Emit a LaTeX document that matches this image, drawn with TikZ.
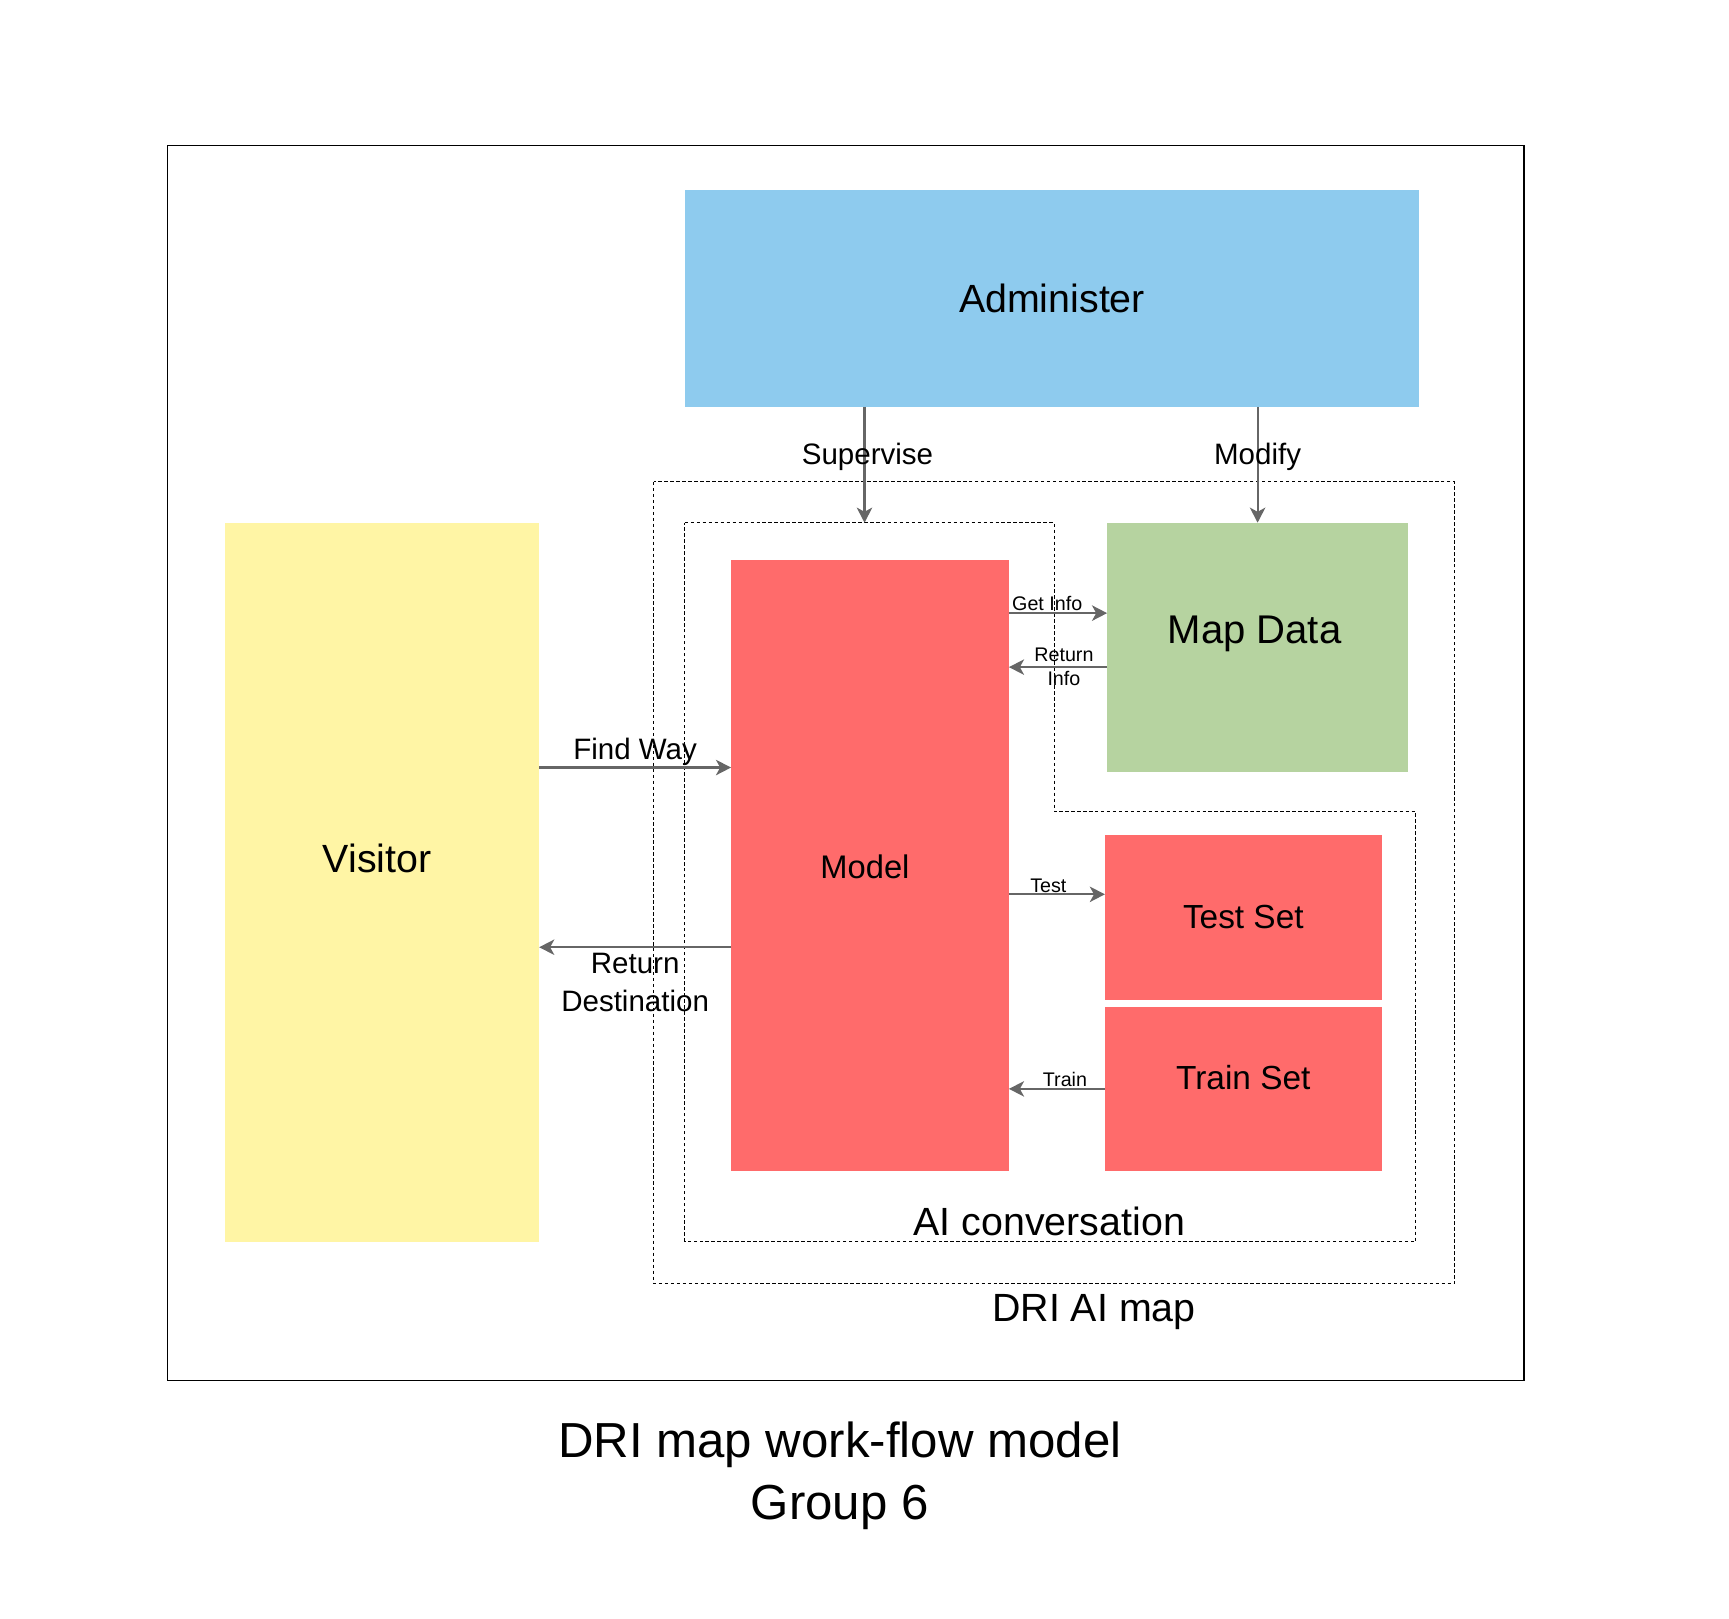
\documentclass[tikz,border=0pt]{standalone}
\usepackage{fontspec}
\setmainfont{Liberation Sans}
\usetikzlibrary{positioning,arrows.meta}

\definecolor{adminblue}{HTML}{8ECBEE}
\definecolor{visityellow}{HTML}{FFF5A5}
\definecolor{modelred}{HTML}{FF6B6B}
\definecolor{mapgreen}{HTML}{B6D3A0}
\definecolor{flowgray}{HTML}{666666}

\begin{document}
\begin{tikzpicture}[
    box/.style={rectangle,draw=none,inner sep=0pt,outer sep=0pt,fill=#1},
    flow/.style={draw=flowgray,line width=0.6pt,-{Stealth[length=4.3pt,width=4.4pt,inset=1.2pt]}},
    zone/.style={draw,line width=0.3pt,dash pattern=on 1pt off 0.7pt},
    bigtext/.style={font=\fontsize{11.2}{13}\selectfont},
    midtext/.style={font=\fontsize{8.4}{10.6}\selectfont,inner sep=0.5pt},
    smalltext/.style={font=\fontsize{5.6}{6.9}\selectfont,inner sep=0.5pt}
    ]

    \useasboundingbox (0,0) rectangle (17.29,-16.18);
    \draw[line width=0.4pt] (1.676,-1.456) rectangle (15.239,-13.806);

    % dashed zones
    \draw[zone] (6.539,-4.819) rectangle (14.545,-12.835);
    \draw[zone] (6.848,-5.227) -- (10.542,-5.227) -- (10.542,-8.116) -- (14.159,-8.116)
      -- (14.159,-12.416) -- (6.848,-12.416) -- cycle;
    \node (convlabel) [bigtext,anchor=base] at (10.493,-12.35) {AI conversation};
    \node (maplabel) [bigtext,anchor=base] at (10.94,-13.21) {DRI AI map};

    % boxes
    \node (admin) [box=adminblue,bigtext,minimum width=7.344cm,minimum height=2.172cm]
      at (10.52,-2.983) {Administer};
    \node (visitor) [box=visityellow,minimum width=3.142cm,minimum height=7.189cm,
      label={[bigtext,xshift=-0.5mm,yshift=2.4mm]center:Visitor}] at (3.821,-8.822) {};
    \node (model) [box=modelred,minimum width=2.779cm,minimum height=6.108cm,
      label={[font=\fontsize{9.3}{11}\selectfont,xshift=-0.5mm,yshift=-0.1mm]center:Model}] at (8.70,-8.656) {};
    \node (mapdata) [box=mapgreen,minimum width=3.01cm,minimum height=2.492cm,
      label={[font=\fontsize{11.4}{13}\selectfont,xshift=-0.3mm,yshift=1.3mm]center:Map Data}] at (12.576,-6.473) {};
    \node (testset) [box=modelred,font=\fontsize{9.5}{11}\selectfont,minimum width=2.768cm,minimum height=1.654cm]
      at (12.433,-9.174) {Test Set};
    \node (trainset) [box=modelred,minimum width=2.768cm,minimum height=1.643cm,below=0.066 of testset,
      label={[font=\fontsize{9.5}{11}\selectfont,yshift=1.1mm]center:Train Set}] {};

    % connectors
    \coordinate (supin) at (8.645,-5.227);
    \draw[flow] (admin.south -| supin) -- (supin) node[midtext,pos=0.43,xshift=0.3mm] {Supervise};
    \draw[flow] (admin.south -| mapdata.north) -- (mapdata.north) node[midtext,pos=0.43] {Modify};

    \draw[flow] ([yshift=3.42mm]mapdata.west -| model.east) -- ([yshift=3.42mm]mapdata.west)
      node[smalltext,above,pos=0.39] {Get Info};
    \draw[flow] ([yshift=-1.98mm]mapdata.west) -- ([yshift=-1.98mm]mapdata.west -| model.east)
      node[smalltext,align=center,pos=0.44] {Return\\Info};

    \draw[flow] ([yshift=9.81mm]model.west -| visitor.east) -- ([yshift=9.81mm]model.west)
      node[midtext,above,inner sep=0.3pt,midway] {Find Way};
    \draw[flow] ([yshift=-8.16mm]model.west) -- ([yshift=-8.16mm]model.west -| visitor.east)
      node[midtext,below,align=center,inner sep=1.5pt,midway] {Return\\Destination};

    \draw[flow] ([yshift=2.31mm]testset.west -| model.east) -- ([yshift=2.31mm]testset.west)
      node[smalltext,above,inner sep=0.2pt,pos=0.41] {Test};
    \draw[flow] (trainset.west) -- (trainset.west -| model.east)
      node[smalltext,above,inner sep=0.4pt,pos=0.416] {Train};

    \node (title) [font=\fontsize{14}{17.5}\selectfont,align=center,anchor=north,inner sep=0pt]
      at (8.398,-14.215) {DRI map work-flow model\\Group 6};

  \end{tikzpicture}
\end{document}
